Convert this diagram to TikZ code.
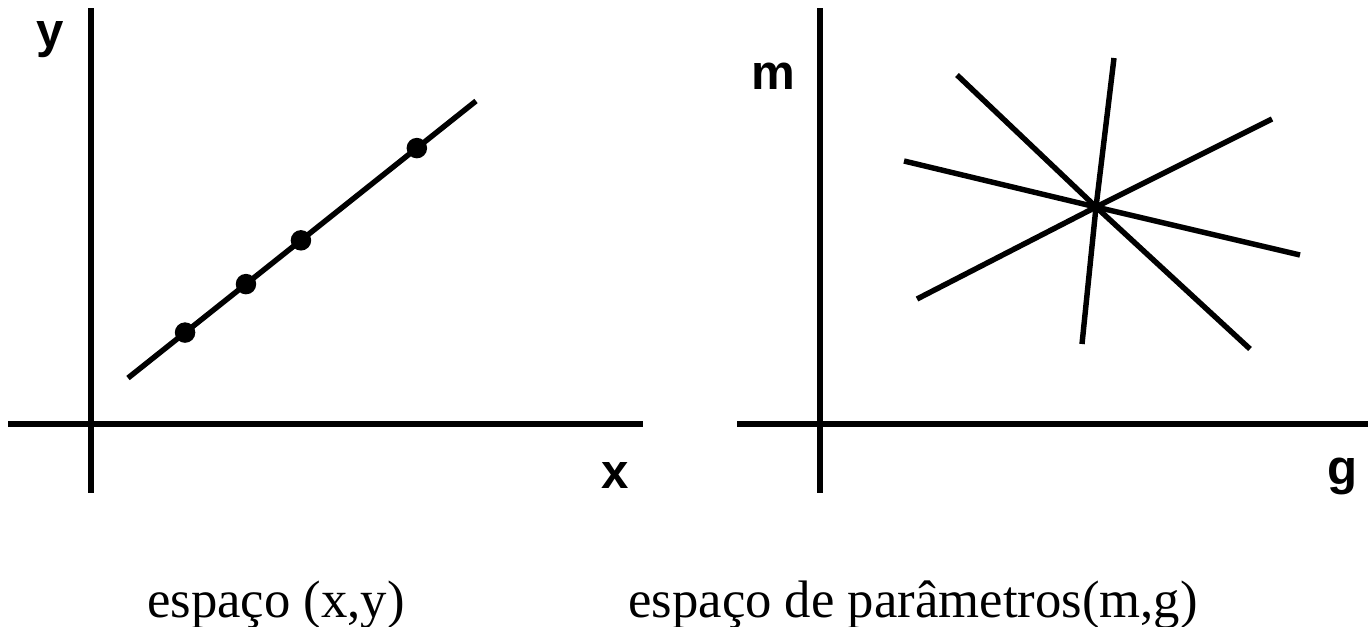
\documentclass[tikz,border=0pt]{standalone}
\usepackage{fontspec}
\setmainfont{Liberation Serif}
\setsansfont{Liberation Sans}
\usetikzlibrary{positioning}
\tikzset{
  every picture/.style={line width=2.8pt},
  axis/.style={draw=black, line width=3pt},
  trace/.style={draw=black, line width=3.1pt},
  dot/.style={circle, fill=black, inner sep=0pt, minimum size=0.41cm},
  lbl/.style={font=\sffamily\bfseries\fontsize{28}{28}\selectfont, inner sep=0pt, anchor=base},
  caption/.style={font=\fontsize{30}{30}\selectfont, inner sep=0pt, anchor=base},
}

\begin{document}
\begin{tikzpicture}[x=0.02cm, y=-0.02cm]
  \useasboundingbox (0,0) rectangle (1368,626);
  % espaco (x,y)
  \coordinate (xyO1) at (91,8);   \coordinate (xyO2) at (91,493);
  \coordinate (xyA1) at (8,424);  \coordinate (xyA2) at (643,424);
  \draw[axis] (xyO1) -- (xyO2);
  \draw[axis] (xyA1) -- (xyA2);
  \node[lbl] (ylbl) at (50,47) {y};
  \node[lbl] (xlbl) at (615,488) {x};
  \coordinate (ln1) at (128,378); \coordinate (ln2) at (476,101);
  \draw[trace] (ln1) -- (ln2)
    node[dot, pos=0.164] (p1) {}
    node[dot, pos=0.339] (p2) {}
    node[dot, pos=0.497] (p3) {}
    node[dot, pos=0.830] (p4) {};
  % espaco de parametros (m,g)
  \coordinate (mgO1) at (820,8);  \coordinate (mgO2) at (820,493);
  \coordinate (mgA1) at (737,424); \coordinate (mgA2) at (1368,424);
  \draw[axis] (mgO1) -- (mgO2);
  \draw[axis] (mgA1) -- (mgA2);
  \node[lbl] (mlbl) at (773,89) {m};
  \node[lbl] (glbl) at (1343,484) {g};
  \coordinate (c) at (1096,207);
  \coordinate (l1a) at (957,75);   \coordinate (l1b) at (1250,349);
  \coordinate (l2a) at (1114,58);  \coordinate (l2b) at (1082,344);
  \coordinate (l3a) at (904,161);  \coordinate (l3b) at (1300,255);
  \coordinate (l4a) at (917,299);  \coordinate (l4b) at (1272,119);
  \foreach \l in {l1,l2,l3,l4}
    \draw[trace] (\l a) -- (c) -- (\l b);
  % legendas
  \node[caption] (capxy) at (276,617) {espaço (x,y)};
  \node[caption] (capmg) at (913,617) {espaço de parâmetros(m,g)};
\end{tikzpicture}
\end{document}
